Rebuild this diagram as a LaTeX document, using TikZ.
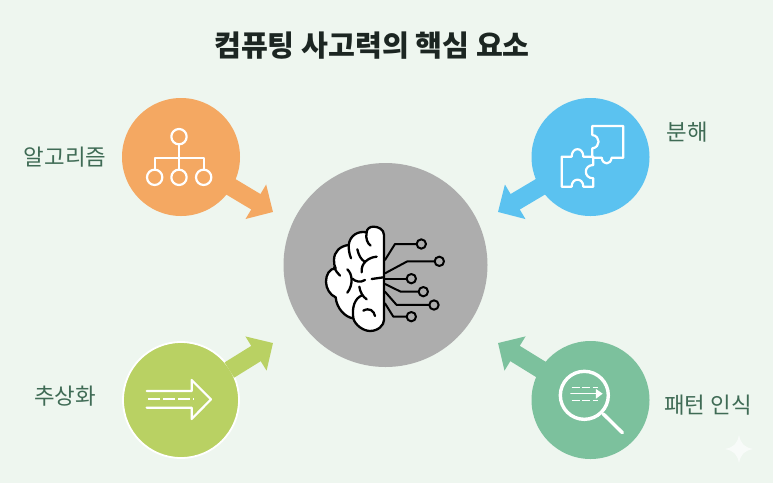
\documentclass[tikz,border=0pt]{standalone}
\usepackage{fontspec}
\setmainfont{Noto Sans CJK KR}
\usetikzlibrary{arrows.meta}
\definecolor{bgpage}{HTML}{EEF6EF}
\definecolor{algoC}{HTML}{F4A862}
\definecolor{splitC}{HTML}{5BC2F0}
\definecolor{abstC}{HTML}{B9D163}
\definecolor{patC}{HTML}{7CC19D}
\definecolor{coreC}{HTML}{ADADAD}
\definecolor{labelC}{HTML}{3F6B55}
\definecolor{titleC}{HTML}{1C2622}
\tikzset{
  hub/.style={circle,inner sep=0pt,minimum size=118pt},
  feed/.style={line width=18pt,shorten <=-2pt,-{Triangle[length=20pt,width=39pt]}},
  tag/.style={text=labelC,inner sep=0pt,font=\fontsize{22.4}{26}\selectfont},
  icon/.style={white,line width=2.2pt,line cap=round,line join=round},
  fold/.style={black,line width=2.3pt,line cap=round,line join=round},
  zoomed/.style={x=0.3333pt,y=-0.3333pt}
}
\begin{document}
\begin{tikzpicture}[x=1pt,y=-1pt]
\useasboundingbox (0,0) rectangle (773,483);
\fill[bgpage] (0,0) rectangle (773,483);
\node[inner sep=0pt,text=titleC,font=\fontsize{29.2}{34}\selectfont\bfseries] (title) at (372,46) {컴퓨팅 사고력의 핵심 요소};
% the five discs
\node[hub,fill=coreC,minimum size=204pt] (core) at (385.5,265) {};
\node[hub,fill=algoC] (algo) at (181,157) {};
\node[hub,fill=splitC] (split) at (590.5,157) {};
\node[hub,fill=abstC,draw=white,line width=1.8pt,minimum size=116pt] (abst) at (181,400) {};
\node[hub,fill=patC] (pat) at (590.5,400) {};
\coordinate (tipA) at (273,212); \coordinate (tipS) at (498,212); \coordinate (tipB) at (273,343); \coordinate (tipP) at (498,343);
\draw[feed,algoC] (algo) -- (tipA); \draw[feed,splitC] (split) -- (tipS); \draw[feed,abstC] (abst) -- (tipB); \draw[feed,patC] (pat) -- (tipP);
% labels
\node[tag] (lalgo) at (65,157) {알고리즘}; \node[tag] (lsplit) at (687.5,132) {분해};
\node[tag] (labst) at (65,396) {추상화}; \node[tag] (lpat) at (708,405) {패턴 인식};
% tree icon
\begin{scope}[shift={(110,90)},zoomed]
\foreach \p in {(207,140),(134,262),(207,262),(281,262)}\draw[icon] \p circle (23);
\draw[icon] (207,163)--(207,239); \draw[icon] (134,239)--(134,203)--(281,203)--(281,239);
\end{scope}
% puzzle icon
\begin{scope}[shift={(490,90)},zoomed]
\draw[icon] (307,108)--(400,108)--(400,203)--(365,203) .. controls (362,226) and (338,226) .. (335,203)--(307,203)--(307,175) .. controls (332,172) and (332,138) .. (307,135)--cycle;
\draw[icon] (215,200)--(245,200) .. controls (245,170) and (280,170) .. (280,200)--(310,200)--(310,225) .. controls (280,225) and (280,265) .. (310,265)--(310,290)--(280,290) .. controls (280,262) and (245,262) .. (245,290)--(215,290)--cycle;
\end{scope}
% abstraction icon
\begin{scope}[shift={(110,330)},zoomed]
\draw[icon] (110,183)--(245,183)--(245,150)--(303,208)--(245,267)--(245,233)--(110,233);
\draw[icon,line cap=butt,dash pattern=on 11.5pt off 3.5pt] (115,208)--(252,208);
\end{scope}
% magnifier icon
\begin{scope}[shift={(490,330)},zoomed]
\draw[icon,line width=3.4pt] (283,196) circle (72); \draw[icon,line width=3.4pt] (340,252)--(397,308);
\draw[icon,line width=1.6pt,line cap=butt,dash pattern=on 8pt off 2.5pt] (245,172)--(325,172);
\draw[icon,line width=1.6pt,line cap=butt,dash pattern=on 8pt off 2.5pt] (245,212)--(325,212);
\draw[icon,line width=1.6pt] (243,191)--(325,191);
\fill[white] (318,177)--(338,191)--(318,206)--cycle;
\end{scope}
% brain icon
\begin{scope}[shift={(270,180)},zoomed]
\draw[fold,fill=white] (342,165) .. controls (342,148) and (325,140) .. (310,140) .. controls (298,140) and (290,148) .. (290,157) .. controls (265,152) and (240,165) .. (236,195) .. controls (210,198) and (192,215) .. (192,240) .. controls (192,250) and (193,258) .. (197,265) .. controls (178,265) and (168,285) .. (168,305) .. controls (168,325) and (180,345) .. (197,352) .. controls (200,385) and (225,412) .. (250,415) .. controls (255,435) and (280,453) .. (300,453) .. controls (325,453) and (342,435) .. (342,420)--cycle;
\draw[fold] (290,157) .. controls (286,175) and (292,190) .. (302,197);
\draw[fold] (236,195) .. controls (236,210) and (238,222) .. (243,235);
\draw[fold] (262,208) .. controls (266,225) and (272,238) .. (285,246);
\draw[fold] (320,230) .. controls (295,232) and (272,250) .. (275,277);
\draw[fold] (192,262) .. controls (198,272) and (202,280) .. (210,287);
\draw[fold] (232,268) .. controls (248,282) and (250,315) .. (232,338);
\draw[fold] (247,296) .. controls (258,306) and (272,308) .. (285,300);
\draw[fold] (268,320) .. controls (270,335) and (278,350) .. (290,358);
\draw[fold] (276,346) .. controls (255,355) and (245,380) .. (250,415);
\draw[fold] (305,297)--(340,292);
\draw[fold] (280,392) .. controls (298,382) and (312,392) .. (315,408);
% circuit traces
\draw[fold,line width=2pt] (345,240)--(375,192)--(440,192); \draw[fold,line width=2pt] (345,280)--(412,244)--(494,244);
\draw[fold,line width=2pt] (345,296)--(410,296); \draw[fold,line width=2pt] (345,312)--(392,335)--(446,335);
\draw[fold,line width=2pt] (345,335)--(380,375)--(478,375); \draw[fold,line width=2pt] (345,370)--(370,410)--(410,410);
\foreach \p in {(454,192),(508,244),(424,296),(460,335),(492,375),(424,410)}\draw[fold,line width=2pt] \p circle (14);
\end{scope}
% sparkle
\fill[white!60!bgpage] (739,435) .. controls (741,444) and (744,447) .. (753,449) .. controls (744,451) and (741,454) .. (739,463) .. controls (737,454) and (734,451) .. (725,449) .. controls (734,447) and (737,444) .. (739,435)--cycle;
\end{tikzpicture}
\end{document}
